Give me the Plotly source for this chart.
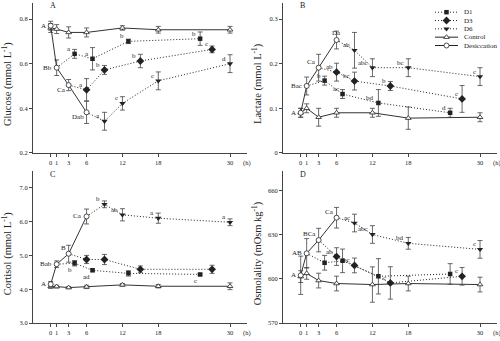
import plotly.graph_objects as go

# ---------------- data ----------------
tick_vals = [0, 1, 3, 6, 12, 18, 30]
tick_text = ["0", "1", "3", "6", "12", "18", "30"]

t_control = [0, 1, 3, 6, 12, 18, 30]
t_desic = [0, 1, 3, 6]
start_d1, start_d3, start_d6 = 1, 3, 6
t_d1 = [4, 7, 13, 25]
t_d3 = [6, 9, 15, 27]
t_d6 = [9, 12, 18, 30]

# Glucose (mmol/L)
glu_control = [0.76, 0.755, 0.74, 0.74, 0.76, 0.752, 0.752]
glu_control_err = [0.02, 0.02, 0.025, 0.02, 0.01, 0.015, 0.015]
glu_desic = [0.77, 0.582, 0.504, 0.382]
glu_desic_err = [0.02, 0.035, 0.025, 0.05]
glu_d1 = [0.644, 0.622, 0.70, 0.712]
glu_d1_err = [0.02, 0.05, 0.01, 0.03]
glu_d3 = [0.483, 0.572, 0.612, 0.664]
glu_d3_err = [0.05, 0.02, 0.03, 0.015]
glu_d6 = [0.342, 0.422, 0.523, 0.60]
glu_d6_err = [0.04, 0.03, 0.04, 0.04]
glu_desic_lab = ["A", "Bb", "Ca", "Dab"]
glu_d1_lab = ["a", "a", "b", "b"]
glu_d3_lab = ["a", "b", "b", "c"]
glu_d6_lab = ["a", "c", "c", "d"]

# Lactate (mmol/L)
lac_control = [0.09, 0.10, 0.08, 0.09, 0.09, 0.078, 0.08]
lac_control_err = [0.01, 0.01, 0.02, 0.01, 0.01, 0.025, 0.01]
lac_desic = [0.09, 0.15, 0.191, 0.253]
lac_desic_err = [0.01, 0.02, 0.03, 0.02]
lac_d1 = [0.162, 0.132, 0.112, 0.09]
lac_d1_err = [0.01, 0.01, 0.03, 0.01]
lac_d3 = [0.181, 0.161, 0.150, 0.121]
lac_d3_err = [0.02, 0.02, 0.01, 0.03]
lac_d6 = [0.230, 0.191, 0.191, 0.171]
lac_d6_err = [0.04, 0.02, 0.02, 0.02]
lac_desic_lab = ["A", "Bac", "Ca", "Da"]
lac_d1_lab = ["b", "ac", "bd", "d"]
lac_d3_lab = ["ab", "bc", "b", "c"]
lac_d6_lab = ["ab", "abc", "bc", "c"]

# Cortisol
cor_control = [4.08, 4.08, 4.05, 4.07, 4.13, 4.09, 4.09]
cor_control_err = [0.05, 0.04, 0.03, 0.05, 0.04, 0.05, 0.1]
cor_desic = [4.15, 4.74, 5.05, 6.15]
cor_desic_err = [0.08, 0.1, 0.25, 0.22]
cor_d1 = [4.77, 4.56, 4.47, 4.44]
cor_d1_err = [0.08, 0.04, 0.08, 0.03]
cor_d3 = [4.88, 4.88, 4.59, 4.59]
cor_d3_err = [0.12, 0.15, 0.1, 0.12]
cor_d6 = [6.51, 6.2, 6.1, 5.98]
cor_d6_err = [0.1, 0.18, 0.15, 0.1]
cor_desic_lab = ["A", "Bab", "B", "Ca"]
cor_d1_lab = ["b", "ad", "", "c"]
cor_d3_lab = ["", "", "", ""]
cor_d6_lab = ["b", "ab", "a", "a"]

# Osmolality (mOsm/kg)
osm_control = [601.6, 603.8, 598.9, 596.9, 596.2, 596.9, 596.2]
osm_control_err = [4, 4, 5, 5, 12, 5, 5]
osm_desic = [602.5, 617.4, 626.4, 641.6]
osm_desic_err = [13, 10, 8, 7]
osm_d1 = [611, 612.3, 601.8, 603.4]
osm_d1_err = [5, 8, 12, 7]
osm_d3 = [615.2, 609.2, 597.3, 601.8]
osm_d3_err = [6, 5, 11, 6]
osm_d6 = [638, 630.2, 624.2, 620.1]
osm_d6_err = [6, 6, 4, 6]
osm_desic_lab = ["A", "AB", "BCa", "Ca"]
osm_d1_lab = ["", "", "", ""]
osm_d3_lab = ["ab", "bc", "c", "c"]
osm_d6_lab = ["ac", "abc", "bd", "c"]

legend_names = ["D1", "D3", "D6", "Control", "Desiccation"]

# ---------------- style ----------------
FONT = "Liberation Serif"
INK = "#222222"
AX = "#444444"
DOT = "1px,2px"
W, H = 500, 341

# label placement styles
POS = {
    "L": dict(xanchor="right", xshift=-3, yshift=0),
    "LD": dict(xanchor="right", xshift=-1, yshift=-5),
    "LU": dict(xanchor="right", xshift=-1, yshift=6),
    "U": dict(xanchor="center", xshift=0, yshift=7),
    "ul": dict(xanchor="right", xshift=-2, yshift=5),
    "dl": dict(xanchor="right", xshift=-1, yshift=-7),
}

panels = [
    dict(key="A", x="x", y="y", title="Glucose (mmol L<sup>-1</sup>)",
         yrange=[0.2, 0.872], ytick=[0.2, 0.4, 0.6, 0.8], yfmt=".1f",
         xdom=[33 / W, 247 / W], ydom=[1 - 154.3 / H, 1 - 3 / H],
         c=glu_control, ce=glu_control_err, d=glu_desic, de=glu_desic_err,
         d1=glu_d1, d1e=glu_d1_err, d3=glu_d3, d3e=glu_d3_err, d6=glu_d6, d6e=glu_d6_err,
         dl=glu_desic_lab, dpos=["L", "L", "LD", "LD"],
         l1=glu_d1_lab, l3=glu_d3_lab, l6=glu_d6_lab,
         p1=["ul"] * 4, p3=["ul"] * 4, p6=["ul"] * 4),
    dict(key="B", x="x2", y="y2", title="Lactate (mmol L<sup>-1</sup>)",
         yrange=[0, 0.336], ytick=[0, 0.1, 0.2, 0.3], yfmt="",
         xdom=[283 / W, 497 / W], ydom=[1 - 154.3 / H, 1 - 3 / H],
         c=lac_control, ce=lac_control_err, d=lac_desic, de=lac_desic_err,
         d1=lac_d1, d1e=lac_d1_err, d3=lac_d3, d3e=lac_d3_err, d6=lac_d6, d6e=lac_d6_err,
         dl=lac_desic_lab, dpos=["L", "L", "LU", "U"],
         l1=lac_d1_lab, l3=lac_d3_lab, l6=lac_d6_lab,
         p1=["ul"] * 4, p3=["ul"] * 4, p6=["ul"] * 4),
    dict(key="C", x="x3", y="y3", title="Cortisol (mmol L<sup>-1</sup>)",
         yrange=[3.0, 7.48], ytick=[3, 4, 5, 6, 7], yfmt=".1f",
         xdom=[33 / W, 247 / W], ydom=[1 - 326 / H, 1 - 173 / H],
         c=cor_control, ce=cor_control_err, d=cor_desic, de=cor_desic_err,
         d1=cor_d1, d1e=cor_d1_err, d3=cor_d3, d3e=cor_d3_err, d6=cor_d6, d6e=cor_d6_err,
         dl=cor_desic_lab, dpos=["L", "L", "LU", "L"],
         l1=cor_d1_lab, l3=cor_d3_lab, l6=cor_d6_lab,
         p1=["dl"] * 4, p3=["ul"] * 4, p6=["ul"] * 4),
    dict(key="D", x="x4", y="y4", title="Osmolality (mOsm kg<sup>-1</sup>)",
         yrange=[570, 673], ytick=[570, 600, 630, 660], yfmt="",
         xdom=[283 / W, 497 / W], ydom=[1 - 326 / H, 1 - 173 / H],
         c=osm_control, ce=osm_control_err, d=osm_desic, de=osm_desic_err,
         d1=osm_d1, d1e=osm_d1_err, d3=osm_d3, d3e=osm_d3_err, d6=osm_d6, d6e=osm_d6_err,
         dl=osm_desic_lab, dpos=["L", "L", "LU", "LU"],
         l1=osm_d1_lab, l3=osm_d3_lab, l6=osm_d6_lab,
         p1=["ul"] * 4, p3=["ul"] * 4, p6=["ul"] * 4),
]

fig = go.Figure()


def err(vals):
    return dict(type="data", array=vals, visible=True, color=AX, thickness=0.8, width=2.5)


rec_styles = [
    ("d1", "d1e", t_d1, start_d1, dict(symbol="square", size=4.5)),
    ("d3", "d3e", t_d3, start_d3, dict(symbol="diamond", size=6)),
    ("d6", "d6e", t_d6, start_d6, dict(symbol="triangle-down", size=5.5)),
]

for p in panels:
    xa, ya = p["x"], p["y"]
    # recovery dotted lines starting at the desiccation point
    for k, ke, tt, st, ms in rec_styles:
        y0 = p["d"][t_desic.index(st)]
        fig.add_trace(go.Scatter(x=[st] + tt, y=[y0] + p[k], mode="lines",
                                 line=dict(color=INK, width=1, dash=DOT),
                                 xaxis=xa, yaxis=ya, showlegend=False, hoverinfo="skip"))
    # control
    fig.add_trace(go.Scatter(x=t_control, y=p["c"], mode="lines+markers",
                             line=dict(color="#333", width=1),
                             marker=dict(symbol="triangle-up", size=5, color="white",
                                         line=dict(color=INK, width=0.8)),
                             error_y=err(p["ce"]),
                             xaxis=xa, yaxis=ya, showlegend=False))
    # desiccation
    fig.add_trace(go.Scatter(x=t_desic, y=p["d"], mode="lines+markers",
                             line=dict(color="#333", width=1),
                             marker=dict(symbol="circle", size=5, color="white",
                                         line=dict(color=INK, width=0.8)),
                             error_y=err(p["de"]),
                             xaxis=xa, yaxis=ya, showlegend=False))
    # recovery markers
    for k, ke, tt, st, ms in rec_styles:
        fig.add_trace(go.Scatter(x=tt, y=p[k], mode="markers",
                                 marker=dict(color=INK, **ms),
                                 error_y=err(p[ke]),
                                 xaxis=xa, yaxis=ya, showlegend=False))

    # letters
    def add_labels(xs, ys, labs, pos):
        for xx, yy, lab, ps in zip(xs, ys, labs, pos):
            if lab:
                fig.add_annotation(x=xx, y=yy, xref=xa, yref=ya, text=lab, showarrow=False,
                                   yanchor="middle", font=dict(family=FONT, size=7, color=INK),
                                   **POS[ps])

    add_labels(t_desic, p["d"], p["dl"], p["dpos"])
    add_labels(t_d1, p["d1"], p["l1"], p["p1"])
    add_labels(t_d3, p["d3"], p["l3"], p["p3"])
    add_labels(t_d6, p["d6"], p["l6"], p["p6"])

    # panel letter
    fig.add_annotation(x=0.093, y=0.98, xref=xa + " domain", yref=ya + " domain",
                       text=p["key"], showarrow=False, xanchor="center", yanchor="middle",
                       font=dict(family=FONT, size=8, color=INK))
    # (h) unit
    fig.add_annotation(x=1.0, y=0, xref=xa + " domain", yref=ya + " domain",
                       text="(h)", showarrow=False, xanchor="center", yanchor="middle",
                       yshift=-10, font=dict(family=FONT, size=6.5, color=INK))
    # y title
    fig.add_annotation(x=0, y=0.5, xref=xa + " domain", yref=ya + " domain",
                       text=p["title"], textangle=-90, showarrow=False,
                       xanchor="center", yanchor="middle", xshift=-26, yshift=-6,
                       font=dict(family=FONT, size=10.5, color=INK))

    axn = "xaxis" if xa == "x" else "xaxis" + xa[1:]
    ayn = "yaxis" if ya == "y" else "yaxis" + ya[1:]
    fig.layout[axn] = dict(domain=p["xdom"], range=[-2.96, 32.84], anchor=ya,
                           tickvals=tick_vals, ticktext=tick_text, ticks="outside",
                           ticklen=3, tickcolor=AX, showline=True, linecolor=AX, linewidth=1,
                           showgrid=False, zeroline=False,
                           tickfont=dict(family=FONT, size=6.5, color=INK))
    fig.layout[ayn] = dict(domain=p["ydom"], range=p["yrange"], anchor=xa,
                           tickvals=p["ytick"], tickformat=p["yfmt"], ticks="outside",
                           ticklen=3, tickcolor=AX, showline=True, linecolor=AX, linewidth=1,
                           showgrid=False, zeroline=False,
                           tickfont=dict(family=FONT, size=6.5, color=INK))

# ---------------- manual compact legend (pixel overlay) ----------------
leg_x0, leg_x1, leg_tx = 435, 458, 462
leg_y0, leg_dy = 12.3, 8.4
leg_markers = [
    dict(symbol="square", size=4.5, color=INK),
    dict(symbol="diamond", size=6, color=INK),
    dict(symbol="triangle-down", size=5.5, color=INK),
    dict(symbol="triangle-up", size=5, color="white", line=dict(color=INK, width=0.8)),
    dict(symbol="circle", size=5, color="white", line=dict(color=INK, width=0.8)),
]
leg_dash = [DOT, DOT, DOT, "solid", "solid"]
for i, name in enumerate(legend_names):
    yy = leg_y0 + i * leg_dy
    fig.add_trace(go.Scatter(x=[leg_x0, leg_x1], y=[yy, yy], mode="lines",
                             line=dict(color=INK, width=1, dash=leg_dash[i]),
                             xaxis="x5", yaxis="y5", showlegend=False, hoverinfo="skip"))
    fig.add_trace(go.Scatter(x=[(leg_x0 + leg_x1) / 2], y=[yy], mode="markers",
                             marker=leg_markers[i],
                             xaxis="x5", yaxis="y5", showlegend=False, hoverinfo="skip"))
    fig.add_annotation(x=leg_tx, y=yy, xref="x5", yref="y5", text=name, showarrow=False,
                       xanchor="left", yanchor="middle",
                       font=dict(family=FONT, size=7, color=INK))

fig.layout["xaxis5"] = dict(domain=[0, 1], range=[0, W], anchor="y5", visible=False,
                            fixedrange=True)
fig.layout["yaxis5"] = dict(domain=[0, 1], range=[H, 0], anchor="x5", visible=False,
                            fixedrange=True)

fig.update_layout(width=W, height=H, margin=dict(l=0, r=0, t=0, b=0),
                  paper_bgcolor="white", plot_bgcolor="rgba(0,0,0,0)",
                  showlegend=False, font=dict(family=FONT, color=INK))

fig.write_html("out.html")
